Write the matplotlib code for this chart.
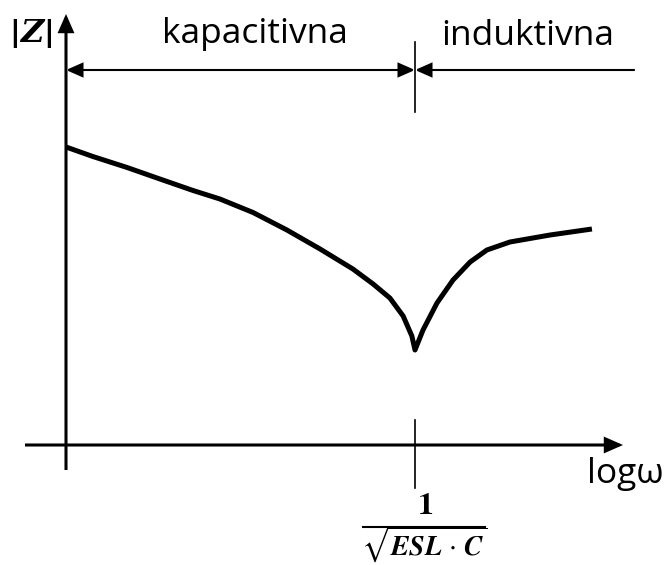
"""Impedancija kondenzatora |Z| u ovisnosti o logω (kapacitivno / induktivno područje)."""
import matplotlib.pyplot as plt
from matplotlib.patches import FancyArrowPatch

plt.rcParams["mathtext.fontset"] = "stix"

# krivulja |Z|(logω), rezonancija na logω = 1
log_w = [0.000, 0.077, 0.175, 0.269, 0.364, 0.441, 0.536, 0.633, 0.728, 0.822,
         0.880, 0.928, 0.966, 0.991, 1.000, 1.023, 1.063, 1.109, 1.158, 1.206,
         1.272, 1.387, 1.507]
z_abs = [2.98, 2.885, 2.775, 2.66, 2.545, 2.46, 2.325, 2.15, 1.96, 1.76,
         1.61, 1.47, 1.29, 1.09, 0.95, 1.15, 1.42, 1.65, 1.83, 1.95,
         2.03, 2.10, 2.16]
w_res = 1.0
regions = ["kapacitivna", "induktivna"]

TXT = "Open Sans"
K = "black"


def arrow(ax, p0, p1, lw, style="-|>"):
    a = FancyArrowPatch(p0, p1, arrowstyle=f"{style},head_length=0.5,head_width=0.22",
                        mutation_scale=20, lw=lw, color=K, shrinkA=0, shrinkB=0,
                        joinstyle="miter", capstyle="butt")
    ax.add_patch(a)


fig = plt.figure(figsize=(6.65, 5.65), dpi=100)
ax = fig.add_axes([0, 0, 1, 1])
ax.set_xlim(-66 / 349, (665 - 66) / 349)
ax.set_ylim(-1.2, 4.45)
ax.set_axis_off()

# osi
arrow(ax, (-0.1175, 0), (1.596, 0), lw=2.2)
arrow(ax, (0, -0.25), (0, 4.31), lw=2.2)

# krivulja
ax.plot(log_w, z_abs, color=K, lw=3.6, solid_capstyle="butt", solid_joinstyle="round")

# oznake rezonancije
ax.plot([w_res, w_res], [3.33, 4.03], color=K, lw=1.2)
ax.plot([w_res, w_res], [-0.43, 0.25], color=K, lw=1.2)

# granice područja
arrow(ax, (0, 3.75), (w_res, 3.75), lw=1.5, style="<|-|>")
arrow(ax, (1.63, 3.75), (w_res, 3.75), lw=1.5)

ax.text(w_res / 2 + 0.04, 4.02, regions[0], family=TXT, fontsize=25.5,
        ha="center", va="baseline")
ax.text(1.324, 4.0, regions[1], family=TXT, fontsize=25.5,
        ha="center", va="baseline")
ax.text(1.493, -0.38, "logω", family=TXT, fontsize=25.5, ha="left", va="baseline")

# |Z|
for xb in (-0.146, -0.0487):
    ax.text(xb, 4.12, "|", family="DejaVu Sans", weight="bold", fontsize=21,
            ha="center", va="center")
ax.text(-0.0974, 4.12, "Z", family="DejaVu Serif", weight="bold", style="italic",
        fontsize=23, ha="center", va="center")

# 1 / sqrt(ESL*C)
ax.text(1.029, -0.6, r"$\mathbf{1}$", fontsize=23, ha="center", va="center")
ax.plot([0.851, 1.20], [-0.82, -0.82], color=K, lw=1.5)
ax.text(1.026, -1.0, r"$\sqrt{\mathbfit{ESL}\,\cdot\,\mathbfit{C}}$", fontsize=20,
        ha="center", va="center")

fig.savefig("out.png", dpi=100, facecolor="white")
